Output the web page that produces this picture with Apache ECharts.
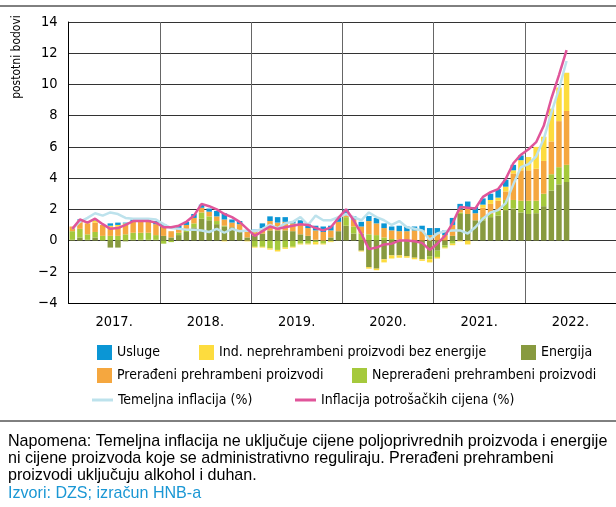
<!DOCTYPE html>
<html>
<head>
<meta charset="utf-8">
<script src="https://cdn.jsdelivr.net/npm/echarts@6/dist/echarts.min.js"></script>
<style>
html,body{margin:0;padding:0;background:#fff;}
#chart{width:616px;height:507px;}
</style>
</head>
<body>
<div id="chart"></div>
<script>
// godine na osi x
var years = ['2017.', '2018.', '2019.', '2020.', '2021.', '2022.'];

// doprinosi, postotni bodovi, sij. 2017. - lip. 2022.
var energija = [
  0.05, 0.2, 0.05, 0.2, 0.0, -0.45, -0.45, -0.05, 0.05, 0.05, 0.05, 0.05,
  0.3, 0.2, 0.35, 0.55, 0.85, 1.4, 1.3, 1.05, 0.9, 0.85, 0.65, 0.2,
  0.3, 0.45, 0.65, 0.65, 0.65, 0.6, 0.4, 0.3, 0.05, 0.0, 0.2, 0.6,
  0.95, 0.45, -0.65, -1.7, -1.8, -1.2, -0.95, -0.95, -1.0, -1.1, -1.2, -1.0,
  -0.65, -0.3, 0.3, 1.7, 1.7, 1.3, 1.3, 1.5, 1.6, 1.95, 2.05, 1.8,
  1.7, 1.75, 2.2, 3.2, 3.6, 3.75
];
var neprerađeni = [
  0.55, 0.55, 0.35, 0.35, 0.3, 0.3, 0.3, 0.4, 0.45, 0.45, 0.45, 0.3,
  -0.2, -0.1, 0.15, 0.15, 0.25, 0.4, 0.25, 0.2, 0.05, 0.0, 0.0, 0.0,
  -0.4, -0.4, -0.5, -0.6, -0.45, -0.4, -0.2, -0.2, -0.1, -0.2, -0.05, 0.0,
  0.55, 0.45, 0.45, 0.4, 0.35, 0.2, 0.1, 0.05, 0.0, 0.0, 0.0, -0.2,
  -0.4, -0.15, -0.2, 0.1, 0.0, 0.0, 0.2, 0.2, 0.3, 0.65, 0.55, 0.75,
  0.85, 0.8, 0.8, 1.05, 1.1, 1.1
];
var prerađeni = [
  0.3, 0.5, 0.7, 0.6, 0.7, 0.55, 0.6, 0.6, 0.7, 0.7, 0.7, 0.7,
  0.6, 0.4, 0.3, 0.3, 0.35, 0.3, 0.3, 0.3, 0.4, 0.3, 0.4, 0.35,
  0.3, 0.35, 0.6, 0.5, 0.55, 0.5, 0.6, 0.5, 0.6, 0.55, 0.45, 0.6,
  0.2, 0.45, 0.45, 0.85, 0.75, 0.6, 0.55, 0.55, 0.6, 0.65, 0.65, 0.35,
  0.45, 0.35, 0.7, 0.2, 0.45, 0.45, 0.6, 0.65, 0.65, 0.55, 1.7, 1.95,
  1.95, 2.05, 2.1, 2.1, 2.95, 3.45
];
var industrijski = [
  0, 0.05, 0.05, 0.15, 0, 0.1, 0.1, 0.1, 0, 0, 0, 0,
  0.05, 0, 0, 0, 0, 0, 0, 0, -0.05, 0, 0, -0.05,
  -0.05, -0.05, -0.08, -0.1, -0.08, -0.05, -0.05, -0.05, -0.15, -0.05, -0.05, 0,
  0, 0, -0.05, -0.1, -0.1, -0.2, -0.2, -0.15, -0.1, -0.1, -0.1, -0.2,
  -0.1, -0.05, -0.1, -0.05, -0.25, 0, 0.2, 0.25, 0.2, 0.3, 0.2, 0.65,
  0.85, 1.4, 1.55, 2.1, 2.15, 2.45
];
var usluge = [
  0, 0.05, 0, 0.05, 0, 0.15, 0.15, 0.05, 0.15, 0.15, 0.15, 0.2,
  0.1, 0.0, 0.15, 0.2, 0.25, 0.2, 0.2, 0.35, 0.4, 0.2, 0.2, 0.1,
  0.1, 0.3, 0.3, 0.35, 0.3, 0.15, 0.3, 0.25, 0.3, 0.35, 0.3, 0.3,
  0.3, 0.2, 0.3, 0.32, 0.35, 0.3, 0.25, 0.35, 0.3, 0.25, 0.3, 0.45,
  0.35, 0.3, 0.45, 0.35, 0.35, 0.4, 0.4, 0.4, 0.55, 0.45, 0.35, 0.3,
  0, 0, 0, 0, 0, 0
];
// stope, %
var inflacija = [
  0.75, 1.35, 1.15, 1.4, 1.05, 0.75, 0.8, 1.0, 1.25, 1.25, 1.25, 1.15,
  0.85, 0.85, 0.95, 1.2, 1.6, 2.35, 2.2, 2.0, 1.7, 1.5, 1.2, 0.75,
  0.3, 0.6, 0.9, 0.75, 0.85, 0.95, 1.05, 1.0, 0.8, 0.65, 0.85, 1.45,
  2.0, 1.3, 0.45, -0.55, -0.45, -0.25, -0.2, 0.0, 0.0, -0.05, -0.15, -0.6,
  -0.2, 0.3, 1.1, 2.15, 2.1, 2.05, 2.8, 3.1, 3.3, 3.95, 4.95, 5.5,
  5.85, 6.3, 7.35, 9.1, 10.6, 12.2
];
var temeljna = [
  0.75, 1.2, 1.45, 1.75, 1.6, 1.8, 1.7, 1.45, 1.4, 1.4, 1.4, 1.35,
  1.05, 0.8, 0.75, 0.7, 0.7, 0.65, 0.55, 0.75, 0.5, 0.75, 0.6, 0.65,
  0.6, 0.75, 1.0, 0.8, 1.1, 1.2, 1.5, 1.0, 1.6, 1.3, 1.3, 1.5,
  1.7, 1.5, 1.3, 1.8, 1.5, 1.3, 1.0, 1.25, 0.85, 0.75, 0.65, 0.05,
  0.45, 0.6, 0.65, 0.65, 0.45, 0.85, 1.4, 1.8, 1.95, 2.4, 3.6, 4.7,
  4.9, 5.4, 6.5, 8.2, 9.7, 11.5
];

var months = [];
for (var y = 0; y < years.length; y++) {
  for (var m = 1; m <= 12; m++) months.push(m + '/' + years[y]);
}

var narrow = '"DejaVu Sans Condensed", "Liberation Sans", sans-serif';
var chart = echarts.init(document.getElementById('chart'));

function bar(name, data, color) {
  return {
    name: name, type: 'bar', stack: 'dop', data: data,
    barCategoryGap: '28%', itemStyle: {color: color}, animation: false
  };
}
function leg(name, left, top, w, h) {
  return {
    data: [name], left: left, top: top, padding: 0,
    icon: 'rect', itemWidth: w, itemHeight: h, selectedMode: false,
    textStyle: {fontFamily: narrow, fontSize: 14, color: '#000'}
  };
}

chart.setOption({
  animation: false,
  grid: {left: 68.5, top: 22, width: 552, height: 281},
  legend: [
    leg('Usluge', 97, 345, 15, 15),
    leg('Ind. neprehrambeni proizvodi bez energije', 199, 345, 15, 15),
    leg('Energija', 521, 345, 15, 15),
    leg('Prerađeni prehrambeni proizvodi', 97, 368, 15, 15),
    leg('Neprerađeni prehrambeni proizvodi', 352, 368, 15, 15),
    leg('Temeljna inflacija (%)', 92, 393, 21, 3),
    leg('Inflacija potrošačkih cijena (%)', 295, 393, 21, 3)
  ],
  xAxis: [
    {type: 'category', data: months, show: false, position: 'bottom'},
    {
      type: 'category', data: years, position: 'bottom', boundaryGap: true,
      axisLine: {lineStyle: {color: '#000', width: 1}},
      axisTick: {show: false},
      axisLabel: {fontFamily: narrow, fontSize: 14.5, color: '#000', margin: 12},
      splitLine: {show: true, lineStyle: {color: '#666', width: 1}}
    }
  ],
  yAxis: {
    type: 'value', min: -4, max: 14, interval: 2,
    axisLine: {show: true, lineStyle: {color: '#000', width: 1}},
    axisTick: {show: false},
    axisLabel: {
      fontFamily: narrow, fontSize: 14.5, color: '#000', margin: 11,
      formatter: function (v) { return v < 0 ? '\u2212' + Math.abs(v) : String(v); }
    },
    splitLine: {lineStyle: {color: '#333', width: 1}}
  },
  series: [
    bar('Energija', energija, '#889a3f'),
    bar('Neprerađeni prehrambeni proizvodi', neprerađeni, '#a5c93c'),
    bar('Prerađeni prehrambeni proizvodi', prerađeni, '#f5a73f'),
    bar('Ind. neprehrambeni proizvodi bez energije', industrijski, '#fddc3e'),
    bar('Usluge', usluge, '#0b96d5'),
    {
      name: 'Temeljna inflacija (%)', type: 'line', data: temeljna,
      symbol: 'none', lineStyle: {color: '#bde2ec', width: 2.5},
      itemStyle: {color: '#bde2ec'}, z: 3
    },
    {
      name: 'Inflacija potrošačkih cijena (%)', type: 'line', data: inflacija,
      symbol: 'none', lineStyle: {color: '#e0559a', width: 2.5},
      itemStyle: {color: '#e0559a'}, z: 4
    }
  ],
  graphic: [
    {type: 'line', shape: {x1: 0, y1: 6, x2: 616, y2: 6}, style: {stroke: '#000', lineWidth: 1}},
    {type: 'line', shape: {x1: 0, y1: 421, x2: 616, y2: 421}, style: {stroke: '#000', lineWidth: 1}},
    {
      type: 'text', x: 17, y: 57, rotation: Math.PI / 2,
      style: {text: 'postotni bodovi', fontFamily: narrow, fontSize: 12, fill: '#000', align: 'center', verticalAlign: 'middle'}
    },
    {
      type: 'text', left: 8, top: 433,
      style: {
        text: 'Napomena: Temeljna inflacija ne uključuje cijene poljoprivrednih proizvoda i energije\nni cijene proizvoda koje se administrativno reguliraju. Prerađeni prehrambeni\nproizvodi uključuju alkohol i duhan.',
        fontFamily: 'Liberation Sans', fontSize: 16.1, lineHeight: 17, fill: '#000'
      }
    },
    {
      type: 'text', left: 8, top: 485,
      style: {text: 'Izvori: DZS; izračun HNB-a', fontFamily: 'Liberation Sans', fontSize: 16.1, lineHeight: 17, fill: '#1a97d4'}
    }
  ]
});
</script>
</body>
</html>
